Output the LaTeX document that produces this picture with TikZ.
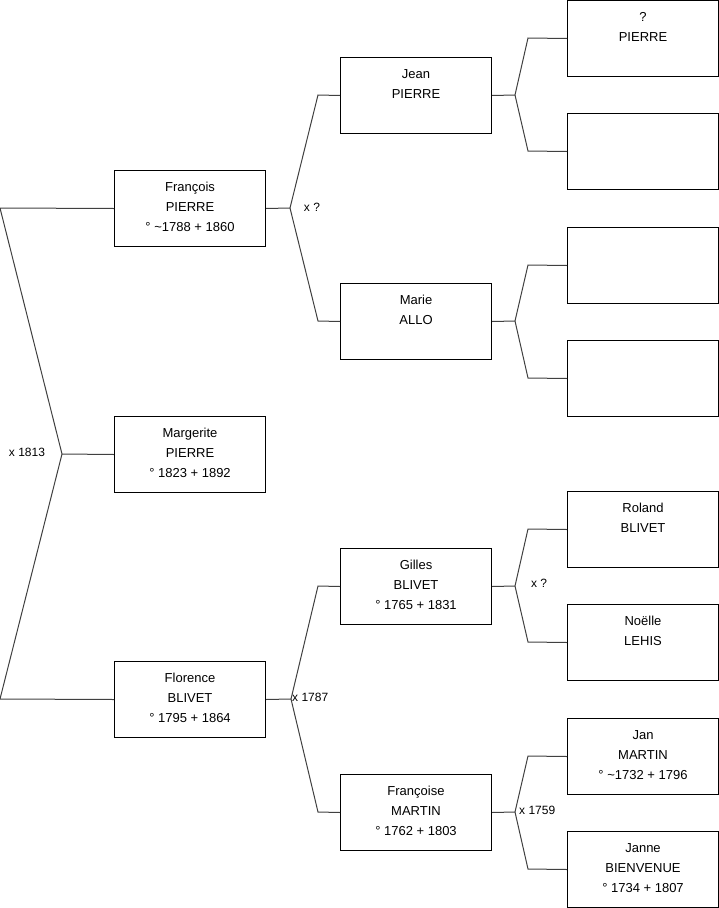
\documentclass[tikz,border=0pt]{standalone}
\usepackage{fontspec}
\setmainfont{Liberation Sans}
\begin{document}
\begin{tikzpicture}[x=1pt,y=-1pt,
  person/.style={draw=black,line width=1pt,minimum width=151pt,minimum height=76pt,inner sep=0pt,anchor=north west},
  ptext/.style={anchor=north,inner sep=0pt,align=center,font=\fontsize{13}{20}\selectfont,yshift=-12pt},
  link/.style={draw=black!75,line width=1pt},
  mlabel/.style={inner sep=0pt,font=\fontsize{12}{14}\selectfont}]
\useasboundingbox (0,0) rectangle (719,908);
% column 1
\node[person] (fr) at (114,170) {};
\node[ptext] (frt) at (fr.north) {François\\PIERRE\\° \textasciitilde1788 + 1860};
\node[person] (mg) at (114,416) {};
\node[ptext] (mgt) at (mg.north) {Margerite\\PIERRE\\° 1823 + 1892};
\node[person] (fl) at (114,661) {};
\node[ptext] (flt) at (fl.north) {Florence\\BLIVET\\° 1795 + 1864};
% column 2
\node[person] (je) at (340,57) {};
\node[ptext] (jet) at (je.north) {Jean\\PIERRE};
\node[person] (ma) at (340,283) {};
\node[ptext] (mat) at (ma.north) {Marie\\ALLO};
\node[person] (gi) at (340,548) {};
\node[ptext] (git) at (gi.north) {Gilles\\BLIVET\\° 1765 + 1831};
\node[person] (fe) at (340,774) {};
\node[ptext] (fet) at (fe.north) {Françoise\\MARTIN\\° 1762 + 1803};
% column 3
\node[person] (p1) at (567,0) {};
\node[ptext] (p1t) at (p1.north) {?\\PIERRE};
\node[person] (p2) at (567,113) {};
\node[person] (p3) at (567,227) {};
\node[person] (p4) at (567,340) {};
\node[person] (p5) at (567,491) {};
\node[ptext] (p5t) at (p5.north) {Roland\\BLIVET};
\node[person] (p6) at (567,604) {};
\node[ptext] (p6t) at (p6.north) {Noëlle\\LEHIS};
\node[person] (p7) at (567,718) {};
\node[ptext] (p7t) at (p7.north) {Jan\\MARTIN\\° \textasciitilde1732 + 1796};
\node[person] (p8) at (567,831) {};
\node[ptext] (p8t) at (p8.north) {Janne\\BIENVENUE\\° 1734 + 1807};
% root bracket
\coordinate (ra) at (0,208);
\coordinate (rj) at (62,454);
\coordinate (rb) at (0,699);
\draw[link] (fr.west) -- (ra) -- (rj) -- (rb) -- (fl.west);
\draw[link] (rj) -- (mg.west);
\node[mlabel] (l1) at (27,452) {x 1813};
% Francois
\coordinate (fj) at (290,208);
\coordinate (fa) at (318,95);
\coordinate (fb) at (318,321);
\draw[link] (fr.east) -- (fj) -- (fa) -- (je.west);
\draw[link] (fj) -- (fb) -- (ma.west);
\node[mlabel] (l2) at (312,207) {x ?};
% Florence
\coordinate (gj) at (291,699);
\coordinate (ga) at (318,586);
\coordinate (gb) at (318,812);
\draw[link] (fl.east) -- (gj) -- (ga) -- (gi.west);
\draw[link] (gj) -- (gb) -- (fe.west);
\node[mlabel,anchor=west] (l3) at (292,697) {x 1787};
% Jean
\coordinate (jj) at (515,95);
\coordinate (ja) at (528,38);
\coordinate (jb) at (528,151);
\draw[link] (je.east) -- (jj) -- (ja) -- (p1.west);
\draw[link] (jj) -- (jb) -- (p2.west);
% Marie
\coordinate (mj) at (515,321);
\coordinate (ma1) at (528,265);
\coordinate (mb1) at (528,378);
\draw[link] (ma.east) -- (mj) -- (ma1) -- (p3.west);
\draw[link] (mj) -- (mb1) -- (p4.west);
% Gilles
\coordinate (gij) at (515,586);
\coordinate (gia) at (528,529);
\coordinate (gib) at (528,642);
\draw[link] (gi.east) -- (gij) -- (gia) -- (p5.west);
\draw[link] (gij) -- (gib) -- (p6.west);
\node[mlabel] (l4) at (539,583) {x ?};
% Francoise
\coordinate (fej) at (515,812);
\coordinate (fea) at (528,756);
\coordinate (feb) at (528,869);
\draw[link] (fe.east) -- (fej) -- (fea) -- (p7.west);
\draw[link] (fej) -- (feb) -- (p8.west);
\node[mlabel,anchor=west] (l5) at (519,810) {x 1759};
\end{tikzpicture}
\end{document}
